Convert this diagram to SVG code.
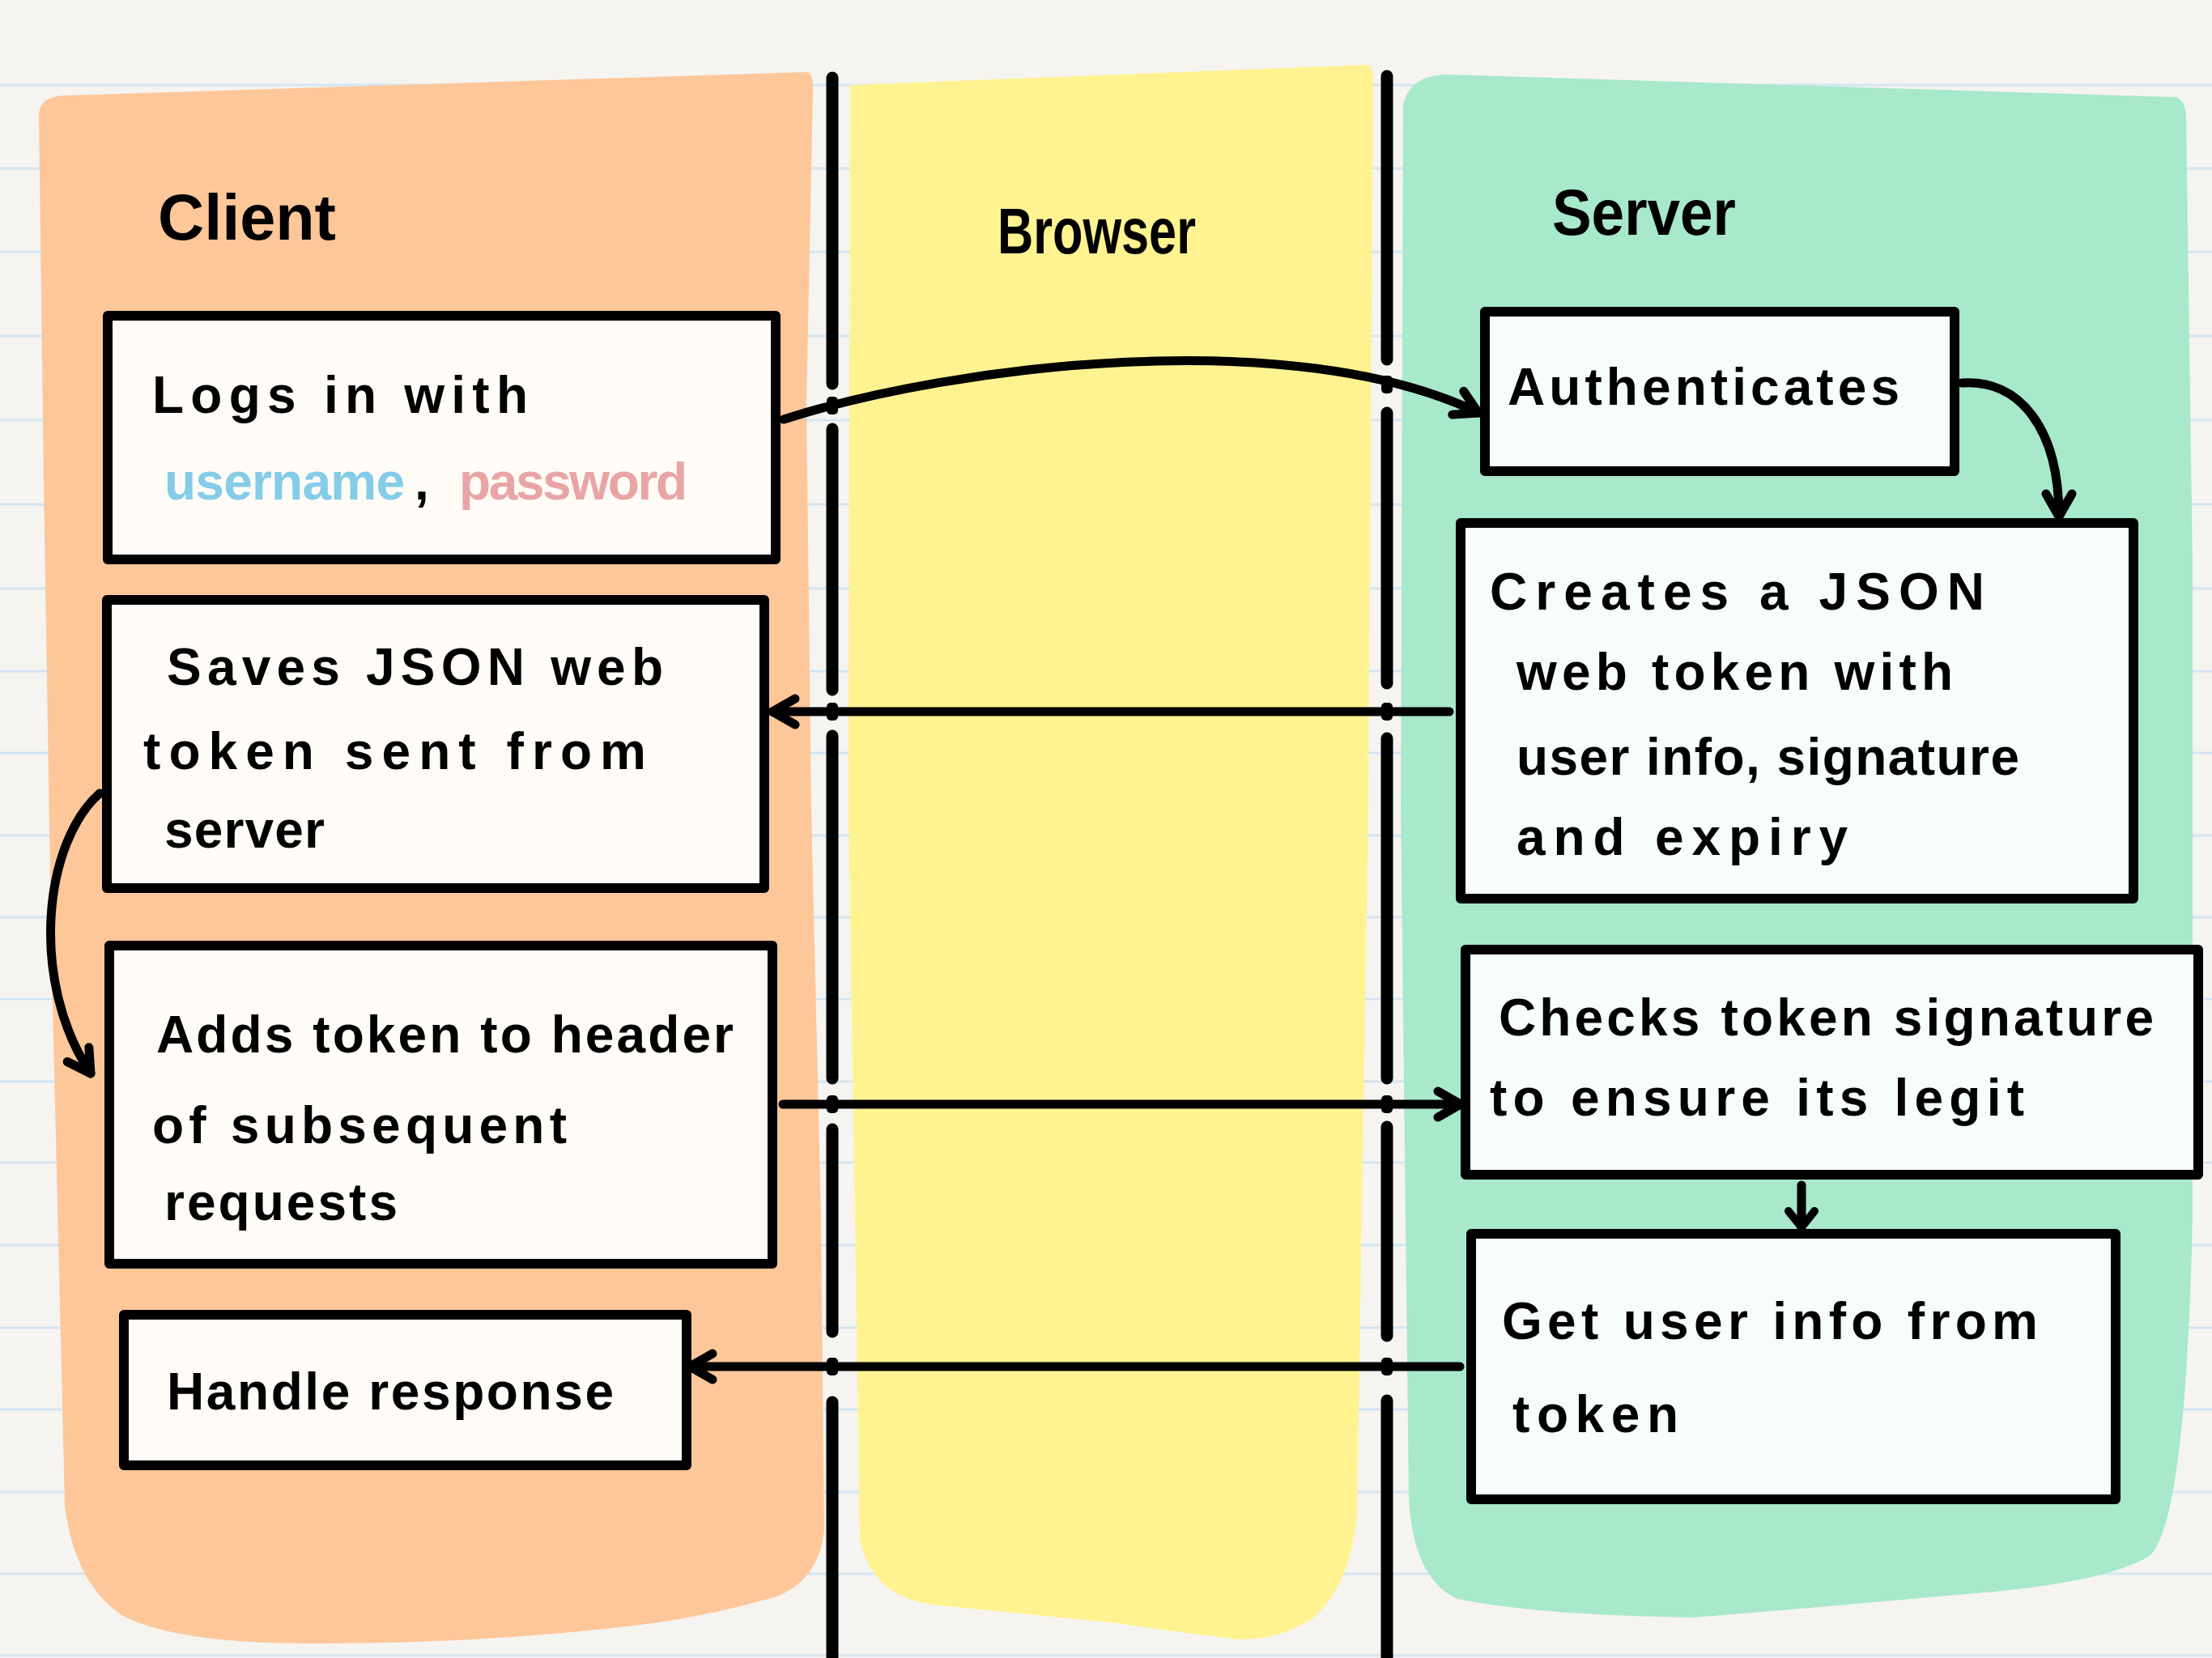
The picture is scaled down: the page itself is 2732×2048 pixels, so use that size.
<svg xmlns="http://www.w3.org/2000/svg" width="2732" height="2048" viewBox="0 0 2732 2048">
<defs>
<style>
.paper{fill:#f5f4f1}
.rule{stroke:#d3e5f4;stroke-width:3}
.vline{stroke:#000;stroke-width:15;stroke-linecap:round;fill:none}
.gap{fill:#f5f4f1}
.tick{fill:#000}
.box{stroke:#000;stroke-width:12;stroke-linejoin:round}
.cbox{fill:#fffcf8}
.sbox{fill:#f6fdfa}
.t{font-family:"Liberation Sans Narrow","Liberation Sans",Arial,sans-serif;font-weight:bold;font-size:64px;fill:#000}
.title{font-size:80px}
.conn{fill:none;stroke:#000;stroke-width:11;stroke-linecap:round;stroke-linejoin:round}
</style>
<marker id="ah" viewBox="-40 -25 50 50" refX="0" refY="0" markerWidth="50" markerHeight="50" markerUnits="userSpaceOnUse" orient="auto">
<path d="M -28 -16 L 0 0 L -28 16" fill="none" stroke="#000" stroke-width="11" stroke-linejoin="round" stroke-linecap="round"/>
</marker>
<marker id="ahs" viewBox="-40 -25 50 50" refX="0" refY="0" markerWidth="50" markerHeight="50" markerUnits="userSpaceOnUse" orient="auto">
<path d="M -20 -16 L 0 0 L -20 16" fill="none" stroke="#000" stroke-width="10" stroke-linejoin="round" stroke-linecap="round"/>
</marker>
</defs>
<rect class="paper" x="0" y="0" width="2732" height="2048"/>
<g id="rules">
<line class="rule" x1="0" y1="105" x2="2732" y2="105"/>
<line class="rule" x1="0" y1="208" x2="2732" y2="208"/>
<line class="rule" x1="0" y1="311" x2="2732" y2="311"/>
<line class="rule" x1="0" y1="415" x2="2732" y2="415"/>
<line class="rule" x1="0" y1="519" x2="2732" y2="519"/>
<line class="rule" x1="0" y1="623" x2="2732" y2="623"/>
<line class="rule" x1="0" y1="727" x2="2732" y2="727"/>
<line class="rule" x1="0" y1="829" x2="2732" y2="829"/>
<line class="rule" x1="0" y1="930" x2="2732" y2="930"/>
<line class="rule" x1="0" y1="1032" x2="2732" y2="1032"/>
<line class="rule" x1="0" y1="1133" x2="2732" y2="1133"/>
<line class="rule" x1="0" y1="1234" x2="2732" y2="1234"/>
<line class="rule" x1="0" y1="1336" x2="2732" y2="1336"/>
<line class="rule" x1="0" y1="1436" x2="2732" y2="1436"/>
<line class="rule" x1="0" y1="1538" x2="2732" y2="1538"/>
<line class="rule" x1="0" y1="1640" x2="2732" y2="1640"/>
<line class="rule" x1="0" y1="1741" x2="2732" y2="1741"/>
<line class="rule" x1="0" y1="1843" x2="2732" y2="1843"/>
<line class="rule" x1="0" y1="1944" x2="2732" y2="1944"/>
<line class="rule" x1="0" y1="2045" x2="2732" y2="2045"/>
</g>
<g id="lanes">
<path id="lane-client" fill="#fec79a" d="M 48 140 Q 50 120 78 118 L 996 89 Q 1005 90 1004 112 L 996 500 L 1002 1000 L 1014 1500 L 1018 1890 Q 1012 1950 960 1972 Q 880 1995 800 2006 Q 600 2030 400 2030 Q 220 2032 150 1995 Q 92 1955 80 1860 L 64 1200 L 54 600 Z"/>
<path id="lane-browser" fill="#fff391" d="M 1050 105 L 1688 80 Q 1697 82 1696 102 L 1690 1000 L 1676 1870 Q 1668 1960 1620 2000 Q 1570 2030 1520 2024 Q 1440 2014 1380 2005 Q 1250 1992 1150 1982 Q 1075 1970 1062 1900 L 1048 1000 Z"/>
<path id="lane-server" fill="#a8e8cb" d="M 1733 130 Q 1740 94 1785 92 L 2688 120 Q 2700 125 2700 145 L 2708 700 L 2708 1500 Q 2700 1880 2655 1922 Q 2600 1955 2440 1968 Q 2250 1985 2090 1998 Q 1900 1995 1800 1975 Q 1745 1950 1740 1850 L 1730 1000 Z"/>
</g>
<g id="dividers">
<path class="vline" d="M 1028 96 L 1028 474 M 1028 530 L 1028 852 M 1028 909 L 1028 1332 M 1028 1395 L 1028 1645 M 1028 1732 L 1028 2048"/>
<path class="vline" d="M 1713 94 L 1713 444 M 1713 510 L 1713 844 M 1713 912 L 1713 1332 M 1713 1392 L 1713 1650 M 1713 1730 L 1713 2048"/>
</g>
<g id="title-client"><text class="t title" x="195" y="296" textLength="220" lengthAdjust="spacingAndGlyphs">Client</text></g>
<g id="title-browser"><text class="t title" x="1232" y="313" textLength="245" lengthAdjust="spacingAndGlyphs">Browser</text></g>
<g id="title-server"><text class="t title" x="1917" y="290" textLength="227" lengthAdjust="spacingAndGlyphs">Server</text></g>
<g id="node-login">
<rect class="box cbox" x="133" y="390" width="825" height="301"/>
<text class="t" x="188" y="510" textLength="464" lengthAdjust="spacing">Logs in with</text>
<text class="t" x="203" y="617" textLength="297" lengthAdjust="spacing" fill="#84cce7" style="fill:#84cce7">username</text>
<text class="t" x="512" y="617">,</text>
<text class="t" x="567" y="617" textLength="282" lengthAdjust="spacing" style="fill:#e9a5a6">password</text>
</g>
<g id="node-save">
<rect class="box cbox" x="132" y="741" width="812" height="356"/>
<text class="t" x="206" y="846" textLength="613" lengthAdjust="spacing">Saves JSON web</text>
<text class="t" x="177" y="950" textLength="621" lengthAdjust="spacing">token sent from</text>
<text class="t" x="203" y="1047" textLength="198" lengthAdjust="spacing">server</text>
</g>
<g id="node-adds">
<rect class="box cbox" x="135" y="1168" width="819" height="393"/>
<text class="t" x="193" y="1300" textLength="713" lengthAdjust="spacing">Adds token to header</text>
<text class="t" x="188" y="1412" textLength="512" lengthAdjust="spacing">of subsequent</text>
<text class="t" x="203" y="1507" textLength="288" lengthAdjust="spacing">requests</text>
</g>
<g id="node-handle">
<rect class="box cbox" x="153" y="1624" width="695" height="186"/>
<text class="t" x="206" y="1741" textLength="552" lengthAdjust="spacing">Handle response</text>
</g>
<g id="node-auth">
<rect class="box sbox" x="1834" y="385" width="580" height="197"/>
<text class="t" x="1862" y="500" textLength="484" lengthAdjust="spacing">Authenticates</text>
</g>
<g id="node-create">
<rect class="box sbox" x="1804" y="646" width="831" height="464"/>
<text class="t" x="1840" y="753" textLength="611" lengthAdjust="spacing">Creates a JSON</text>
<text class="t" x="1873" y="852" textLength="539" lengthAdjust="spacing">web token with</text>
<text class="t" x="1873" y="957" textLength="621" lengthAdjust="spacing">user info, signature</text>
<text class="t" x="1873" y="1056" textLength="409" lengthAdjust="spacing">and expiry</text>
</g>
<g id="node-check">
<rect class="box sbox" x="1810" y="1173" width="905" height="278"/>
<text class="t" x="1851" y="1279" textLength="809" lengthAdjust="spacing">Checks token signature</text>
<text class="t" x="1840" y="1378" textLength="660" lengthAdjust="spacing">to ensure its legit</text>
</g>
<g id="node-getinfo">
<rect class="box sbox" x="1817" y="1524" width="796" height="328"/>
<text class="t" x="1855" y="1654" textLength="662" lengthAdjust="spacing">Get user info from</text>
<text class="t" x="1868" y="1769" textLength="205" lengthAdjust="spacing">token</text>
</g>
<g id="connectors">
<path class="conn" d="M 968 518 C 1180 450, 1600 400, 1826 510" marker-end="url(#ah)"/>
<path class="conn" d="M 2423 473 C 2495 468, 2543 530, 2543 638" marker-end="url(#ah)"/>
<path class="conn" d="M 1790 879 L 954 879" marker-end="url(#ah)"/>
<path class="conn" d="M 967 1364 L 1804 1364" marker-end="url(#ah)"/>
<path class="conn" d="M 2225 1464 L 2225 1516" marker-end="url(#ahs)"/>
<path class="conn" d="M 1803 1688 L 852 1688" marker-end="url(#ah)"/>
<path class="conn" d="M 123 980 C 55 1040, 35 1210, 112 1326" marker-end="url(#ah)"/>
<rect class="tick" x="1021" y="490" width="14" height="22" rx="5"/>
<rect class="tick" x="1706" y="464" width="14" height="22" rx="5"/>
<rect class="tick" x="1021" y="868" width="14" height="22" rx="5"/>
<rect class="tick" x="1706" y="868" width="14" height="22" rx="5"/>
<rect class="tick" x="1021" y="1353" width="14" height="22" rx="5"/>
<rect class="tick" x="1706" y="1353" width="14" height="22" rx="5"/>
<rect class="tick" x="1021" y="1677" width="14" height="22" rx="5"/>
<rect class="tick" x="1706" y="1677" width="14" height="22" rx="5"/>
</g>
</svg>
